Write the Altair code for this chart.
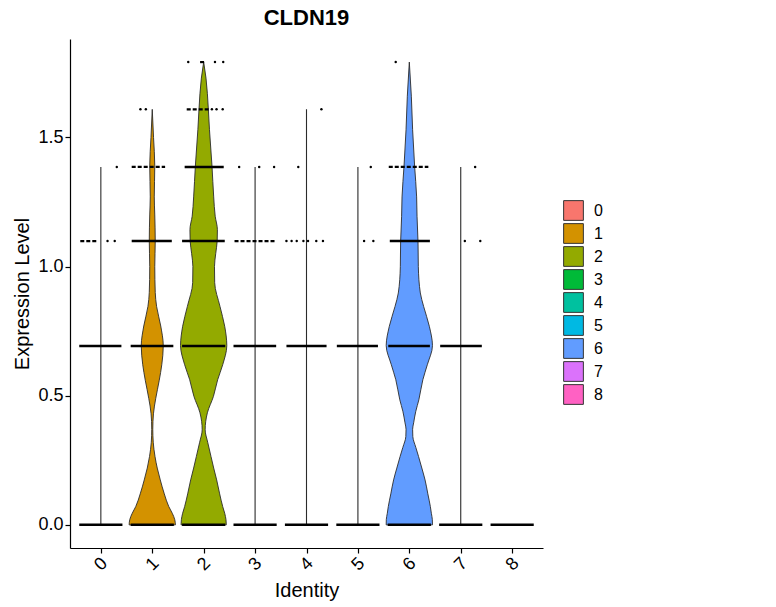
import altair as alt
import pandas as pd

# ---------------- data ----------------
idents = ["0", "1", "2", "3", "4", "5", "6", "7", "8"]
palette = ["#F8766D", "#D39200", "#93AA00", "#00BA38", "#00C19F",
           "#00B9E3", "#619CFF", "#DB72FB", "#FF61C3"]

# violin outlines (expression level, half width in x units) for the filled violins
v1_level = [0, 0.02, 0.045, 0.071, 0.12, 0.174, 0.22, 0.265, 0.32, 0.37, 0.43, 0.49,
            0.56, 0.62, 0.694, 0.77, 0.846, 0.9, 1.0, 1.1, 1.2, 1.27, 1.39, 1.5, 1.609]
v1_half = [0.45, 0.438, 0.389, 0.321, 0.234, 0.156, 0.097, 0.053, 0.019, 0.010, 0.023, 0.068,
           0.136, 0.185, 0.214, 0.165, 0.084, 0.058, 0.049, 0.058, 0.049, 0.039, 0.049, 0.025, 0.0]

v2_level = [0, 0.02, 0.045, 0.071, 0.12, 0.174, 0.22, 0.265, 0.32, 0.368, 0.434, 0.497,
            0.562, 0.62, 0.694, 0.769, 0.846, 0.938, 1.0, 1.05, 1.1, 1.143, 1.195, 1.27,
            1.389, 1.53, 1.609, 1.73, 1.792]
v2_half = [0.44, 0.434, 0.409, 0.37, 0.311, 0.253, 0.195, 0.142, 0.078, 0.029, 0.072, 0.189,
           0.272, 0.37, 0.45, 0.409, 0.317, 0.214, 0.21, 0.234, 0.263, 0.267, 0.224, 0.195,
           0.162, 0.113, 0.091, 0.045, 0.0]

v6_level = [0, 0.02, 0.045, 0.071, 0.12, 0.174, 0.22, 0.265, 0.30, 0.342, 0.37, 0.395,
            0.44, 0.484, 0.562, 0.62, 0.694, 0.769, 0.846, 0.898, 1.0, 1.097, 1.195, 1.27,
            1.389, 1.53, 1.66, 1.792]
v6_half = [0.45, 0.448, 0.428, 0.409, 0.36, 0.306, 0.243, 0.179, 0.126, 0.068, 0.064, 0.084,
           0.126, 0.185, 0.263, 0.35, 0.45, 0.389, 0.278, 0.214, 0.175, 0.169, 0.15, 0.142,
           0.103, 0.064, 0.039, 0.0]

# clusters whose violin collapses to a thin line (mostly zeros)
thin_group = [0, 3, 4, 5, 7]
thin_max = [1.386, 1.386, 1.609, 1.386, 1.386]

# dense runs of jittered cells (group, level, left offset, right offset)
dense_group = [0, 1, 2, 3, 4, 5, 6, 7, 8,
               0, 1, 2, 3, 4, 5, 6, 7,
               1, 2, 6,
               2]
dense_level = [0, 0, 0, 0, 0, 0, 0, 0, 0,
               0.693, 0.693, 0.693, 0.693, 0.693, 0.693, 0.693, 0.693,
               1.099, 1.099, 1.099,
               1.386]
dense_lo = [-0.42, -0.42, -0.42, -0.42, -0.42, -0.42, -0.42, -0.42, -0.42,
            -0.42, -0.42, -0.42, -0.42, -0.39, -0.41, -0.41, -0.40,
            -0.40, -0.42, -0.38,
            -0.37]
dense_hi = [0.42, 0.42, 0.42, 0.42, 0.42, 0.42, 0.42, 0.42, 0.42,
            0.40, 0.41, 0.42, 0.41, 0.39, 0.39, 0.40, 0.41,
            0.38, 0.41, 0.40,
            0.39]

# sparser runs of cells
sparse_group = [0, 3, 1, 6, 2, 2]
sparse_level = [1.099, 1.099, 1.386, 1.386, 1.609, 1.792]
sparse_lo = [-0.40, -0.40, -0.40, -0.40, -0.33, -0.07]
sparse_hi = [-0.05, 0.40, 0.25, 0.37, 0.10, 0.02]

# isolated cells (group, level, horizontal jitter offset)
pt_group = [2, 2, 2, 6,
            1, 1, 2, 2, 2, 4,
            0, 3, 3, 3, 4, 5, 7,
            0, 0, 4, 4, 4, 4, 4, 4, 4, 5, 5, 7, 7]
pt_level = [1.792, 1.792, 1.792, 1.792,
            1.609, 1.609, 1.609, 1.609, 1.609, 1.609,
            1.386, 1.386, 1.386, 1.386, 1.386, 1.386, 1.386,
            1.099, 1.099, 1.099, 1.099, 1.099, 1.099, 1.099, 1.099, 1.099, 1.099, 1.099,
            1.099, 1.099]
pt_offset = [-0.30, 0.22, 0.38, -0.265,
             -0.23, -0.125, 0.16, 0.25, 0.37, 0.29,
             0.31, -0.31, 0.08, 0.37, -0.16, 0.25, 0.28,
             0.13, 0.27, -0.39, -0.29, -0.19, -0.06, 0.03, 0.19, 0.32, 0.12, 0.30,
             0.08, 0.38]

y_ticks = [0.0, 0.5, 1.0, 1.5]

# ---------------- tables ----------------
violin_df = pd.concat([
    pd.DataFrame({"group": 1, "ident": "1", "level": v1_level, "half": v1_half}),
    pd.DataFrame({"group": 2, "ident": "2", "level": v2_level, "half": v2_half}),
    pd.DataFrame({"group": 6, "ident": "6", "level": v6_level, "half": v6_half}),
], ignore_index=True)
thin_df = pd.DataFrame({"group": thin_group, "top": thin_max})
dense_df = pd.DataFrame({"group": dense_group, "level": dense_level, "lo": dense_lo, "hi": dense_hi})
sparse_df = pd.DataFrame({"group": sparse_group, "level": sparse_level, "lo": sparse_lo, "hi": sparse_hi})
pt_df = pd.DataFrame({"group": pt_group, "level": pt_level, "off": pt_offset})

FONT = "Liberation Sans"

x_scale = alt.Scale(domain=[-0.6, 8.6], nice=False, zero=False)
y_scale = alt.Scale(domain=[-0.0896, 1.8814], nice=False, zero=False)

x_axis = alt.Axis(values=list(range(9)), format="d", title="Identity", grid=False,
                  labelAngle=-45, labelAlign="center", labelBaseline="middle",
                  labelPadding=11, titleY=42, titleBaseline="middle")
y_axis = alt.Axis(values=y_ticks, format=".1f", title="Expression Level", grid=False,
                  labelPadding=2, titleX=-48, titleY=254.5, titleAngle=-90,
                  titleAlign="center", titleBaseline="middle")

violins = alt.Chart(violin_df).transform_calculate(
    xl="datum.group - datum.half", xr="datum.group + datum.half"
).mark_area(orient="horizontal", stroke="#2b2b2b", strokeWidth=0.9, opacity=1,
            interpolate="monotone").encode(
    y=alt.Y("level:Q", scale=y_scale, axis=y_axis),
    x=alt.X("xl:Q", scale=x_scale, axis=x_axis, stack=None),
    x2="xr:Q",
    color=alt.Color("ident:N", scale=alt.Scale(domain=idents, range=palette),
                    legend=alt.Legend(title=None, orient="none", legendX=493, legendY=161,
                                      symbolType="square", symbolSize=390,
                                      symbolStrokeColor="#333333", symbolStrokeWidth=1,
                                      symbolOpacity=1, labelFont=FONT, labelFontSize=16,
                                      labelColor="black", labelOffset=10, rowPadding=-2.5,
                                      padding=0)),
    detail="ident:N",
)

thin = alt.Chart(thin_df).transform_calculate(base="0").mark_rule(
    color="#2b2b2b", strokeWidth=1.1).encode(
    x=alt.X("group:Q", scale=x_scale, axis=x_axis),
    y=alt.Y("base:Q", scale=y_scale, axis=y_axis),
    y2="top:Q",
)

dense = alt.Chart(dense_df).transform_calculate(
    xl="datum.group + datum.lo", xr="datum.group + datum.hi"
).mark_rule(color="black", strokeWidth=2.5).encode(
    x=alt.X("xl:Q", scale=x_scale, axis=x_axis),
    x2="xr:Q",
    y=alt.Y("level:Q", scale=y_scale, axis=y_axis),
)

sparse = alt.Chart(sparse_df).transform_calculate(
    xl="datum.group + datum.lo", xr="datum.group + datum.hi"
).mark_rule(color="black", strokeWidth=2.2, strokeDash=[4, 2]).encode(
    x=alt.X("xl:Q", scale=x_scale, axis=x_axis),
    x2="xr:Q",
    y=alt.Y("level:Q", scale=y_scale, axis=y_axis),
)

points = alt.Chart(pt_df).transform_calculate(
    xp="datum.group + datum.off"
).mark_circle(color="black", size=6, opacity=1).encode(
    x=alt.X("xp:Q", scale=x_scale, axis=x_axis),
    y=alt.Y("level:Q", scale=y_scale, axis=y_axis),
)

chart = alt.layer(violins, thin, dense, sparse, points).properties(
    width=473, height=509,
    background="white",
    title=alt.TitleParams("CLDN19", font=FONT, fontSize=22, fontWeight="bold",
                          color="black", anchor="middle", offset=9),
    autosize=alt.AutoSizeParams(type="none"),
    padding={"left": 70, "top": 39, "right": 233, "bottom": 59},
).configure_view(stroke=None).configure_axis(
    domainColor="black", domainWidth=1.2, tickColor="black", tickWidth=1.2, tickSize=5,
    labelColor="black", labelFont=FONT, labelFontSize=18,
    titleColor="black", titleFont=FONT, titleFontSize=20, titleFontWeight="normal",
)

chart.save("out.html", embed_options={"renderer": "svg", "actions": False})
